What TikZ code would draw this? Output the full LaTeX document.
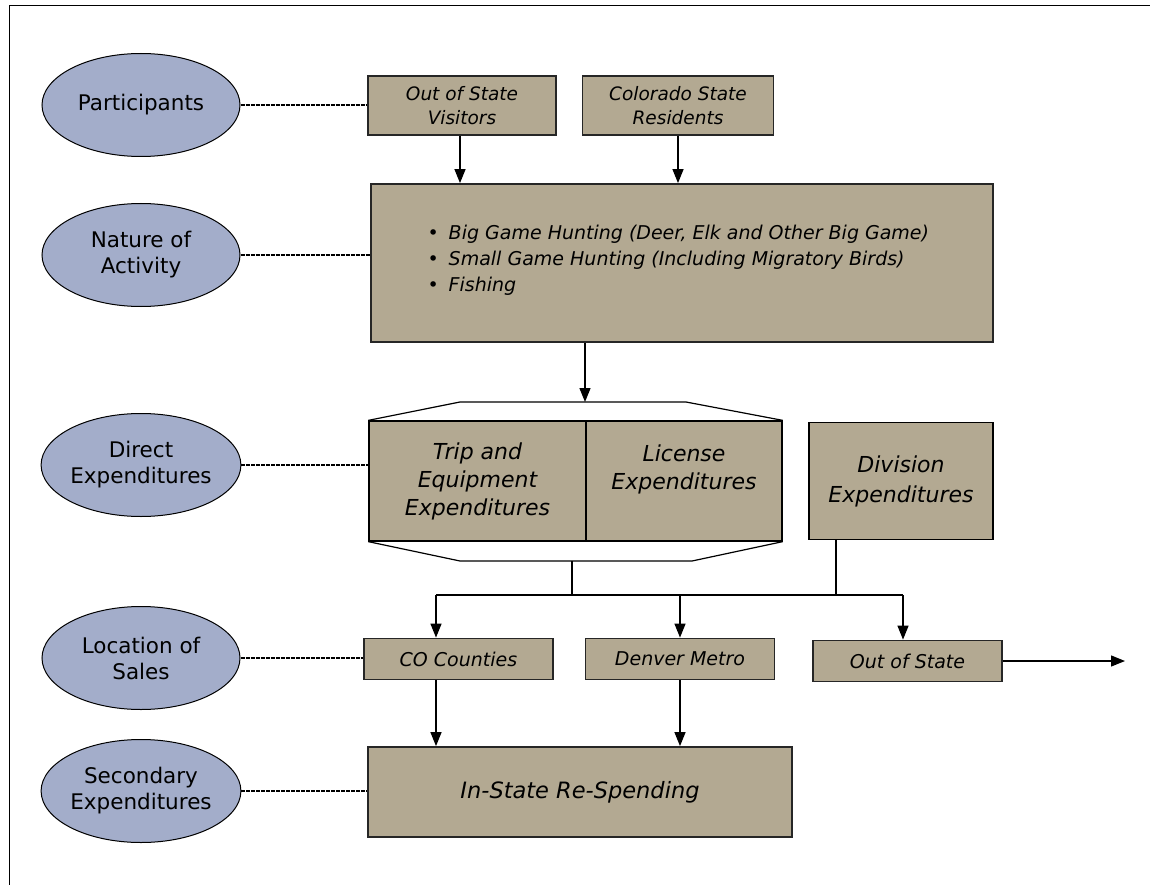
\documentclass[tikz,border=0pt]{standalone}
\usepackage{fontspec}
\setmainfont{DejaVu Sans}
\usetikzlibrary{arrows.meta,shapes.geometric}
\definecolor{ellfill}{HTML}{A3ADCA}
\definecolor{boxfill}{HTML}{B3A992}
\tikzset{
  ell/.style={ellipse, draw=black, line width=1pt, fill=ellfill, minimum width=198pt, minimum height=103pt, inner sep=0pt, align=center, font=\fontsize{21.5}{26}\selectfont},
  tbox/.style={draw=black!85, line width=1.8pt, fill=boxfill, inner sep=0pt, align=center},
  hbox/.style={draw=black, line width=1.3pt, fill=boxfill, inner sep=0pt, align=center},
  dotl/.style={line width=2.6pt, dash pattern=on 4pt off 1pt},
  arr/.style={line width=1.3pt, -{Triangle[length=14pt,width=11pt]}},
  plain/.style={line width=1.3pt},
}
\begin{document}
\begin{tikzpicture}[x=1pt,y=-1pt]
\useasboundingbox (0,0) rectangle (1150,885);
% frame
\draw[line width=1pt] (9,885) -- (9,6) -- (1150,6);
% ellipses
\node[ell] (e1) at (141,105) {Participants};
\node[ell] (e2) at (141,255) {Nature of\\Activity};
\node[ell] (e3) at (141,465) {Direct\\Expenditures};
\node[ell] (e4) at (141,658) {Location of\\Sales};
\node[ell] (e5) at (141,791) {Secondary\\Expenditures};
% top boxes
\node[tbox, minimum width=188pt, minimum height=59pt, font=\itshape\fontsize{18.5}{24}\selectfont] (osv) at (462,105.5) {Out of State\\Visitors};
\node[tbox, minimum width=191pt, minimum height=59pt, font=\itshape\fontsize{18.5}{24}\selectfont] (csr) at (678,105.5) {Colorado State\\Residents};
% big activity box
\node[tbox, minimum width=622pt, minimum height=158pt] (act) at (682,263) {};
\node[anchor=west, font=\itshape\fontsize{19}{26}\selectfont, align=left] (actt) at (424,260)
  {\textbullet\hspace{10pt}Big Game Hunting (Deer, Elk and Other Big Game)\\
   \textbullet\hspace{10pt}Small Game Hunting (Including Migratory Birds)\\
   \textbullet\hspace{10pt}Fishing};
% hexagon frame around direct expenditures
\coordinate (htl) at (460,402);
\coordinate (htr) at (686,402);
\coordinate (hbl) at (460,561);
\coordinate (hbr) at (692,561);
\node[hbox, minimum width=217pt, minimum height=120pt, font=\itshape\fontsize{22}{28}\selectfont] (trip) at (477.5,481) {Trip and\\Equipment\\Expenditures};
\node[hbox, minimum width=196pt, minimum height=120pt, font=\itshape\fontsize{22}{28}\selectfont, text depth=28pt] (lic) at (684,481) {License\\Expenditures};
\draw[line width=1.2pt] (trip.north west) -- (htl) -- (htr) -- (lic.north east);
\draw[line width=1.2pt] (trip.south west) -- (hbl) -- (hbr) -- (lic.south east);
\node[hbox, minimum width=184pt, minimum height=117pt, font=\itshape\fontsize{22}{30}\selectfont] (div) at (901,481) {Division\\Expenditures};
% location boxes
\node[tbox, minimum width=189pt, minimum height=41pt, font=\itshape\fontsize{19}{22}\selectfont] (co) at (458.5,659) {CO Counties};
\node[tbox, minimum width=189pt, minimum height=41pt, font=\itshape\fontsize{19}{22}\selectfont] (den) at (680,659) {Denver Metro};
\node[tbox, minimum width=189pt, minimum height=41pt, font=\itshape\fontsize{19}{22}\selectfont] (oos) at (907.5,661) {Out of State};
% in-state
\node[tbox, minimum width=424pt, minimum height=90pt, font=\itshape\fontsize{22.5}{28}\selectfont] (ins) at (580,792) {In-State Re-Spending};
% dotted connectors
\draw[dotl] (e1.east) -- (osv.west |- e1.east);
\draw[dotl] (e2.east) -- (act.west |- e2.east);
\draw[dotl] (e3.east) -- (trip.west |- e3.east);
\draw[dotl] (e4.east) -- (co.west |- e4.east);
\draw[dotl] (e5.east) -- (ins.west |- e5.east);
% arrows
\draw[arr] (osv.south -| 460,0) -- (act.north -| 460,0);
\draw[arr] (csr.south) -- (csr.south |- act.north);
\draw[arr] (act.south -| 585,0) -- (585,402);
\coordinate (j1) at (572,595);
\coordinate (j2) at (836,595);
\draw[plain] (572,561) -- (j1);
\draw[plain] (div.south -| j2) -- (j2);
\draw[plain] (436,595) -- (903,595);
\draw[arr] (436,595) -- (co.north -| 436,0);
\draw[arr] (680,595) -- (den.north);
\draw[arr] (903,595) -- (oos.north -| 903,0);
\draw[arr] (oos.east) -- (1125,661);
\draw[arr] (co.south -| 436,0) -- (ins.north -| 436,0);
\draw[arr] (den.south) -- (ins.north -| den.south);
\end{tikzpicture}
\end{document}
